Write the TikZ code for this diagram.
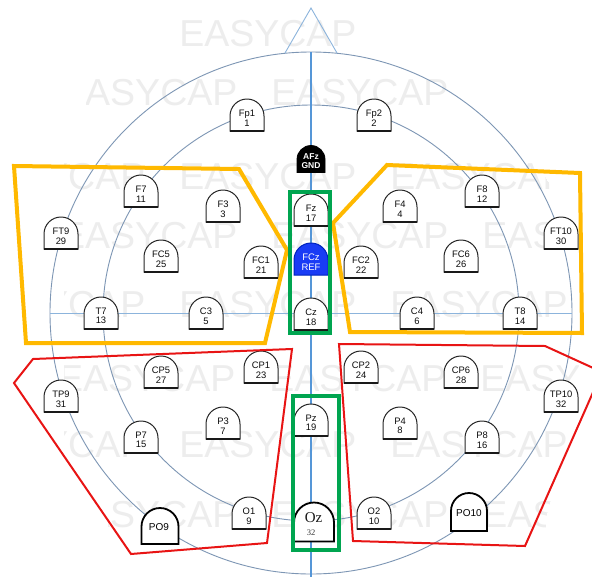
\documentclass[tikz,border=0pt]{standalone}
\usepackage{fontspec}
\setmainfont{Liberation Sans}
\newfontfamily\ozfont{Liberation Serif}
\definecolor{circblue}{RGB}{125,150,180}
\definecolor{axisblue}{RGB}{85,150,215}
\definecolor{axislight}{RGB}{140,180,220}
\definecolor{orangec}{RGB}{255,185,0}
\definecolor{greenc}{RGB}{0,165,80}
\definecolor{redc}{RGB}{232,20,20}
\definecolor{fczblue}{RGB}{25,60,245}
\definecolor{fczedge}{RGB}{0,35,190}
\tikzset{
  circ/.style={draw=circblue, line width=0.9pt},
  vaxis/.style={draw=axisblue, line width=1.3pt},
  haxis/.style={draw=axislight, line width=1pt},
  nose/.style={draw=axislight, line width=0.9pt},
  orangebox/.style={draw=orangec, line width=4pt, line join=miter},
  redbox/.style={draw=redc, line width=2pt, line join=miter},
  greenbox/.style={draw=greenc, line width=4pt},
  eshape/.style={fill=white, draw=black!85, line width=1pt},
  ebase/.style={draw=black!90, line width=1.7pt},
  lbl/.style={align=center, inner sep=0pt, text=black!95, font=\fontsize{9.4}{9.6}\selectfont},
  wm/.style={anchor=west, inner sep=0pt, text=black!7, font=\fontsize{37.5}{37.5}\selectfont},
  thick tomb/.style={fill=white, draw=black, line width=1.8pt}
}
\newcommand{\tomb}[5]{\path[#1] ({#2-#4},{#3+#5}) -- ({#2-#4},{#3-#5+#4}) arc[start angle=180,end angle=360,radius=#4] -- ({#2+#4},{#3+#5}) -- cycle;}
\newcommand{\tombbase}[5]{\draw[#1] ({#2-#4},{#3+#5}) -- ({#2+#4},{#3+#5});}
\newcommand{\elec}[4]{%
  \tomb{eshape}{#2}{#3}{17}{16}
  \tombbase{ebase}{#2}{#3}{17}{16}
  \node[lbl] (#1) at (#2,{#3+3}) {#1\\#4};}
\newcommand{\wmrow}[3]{\node[wm] (#1) at (#2,#3) {EASYCAP\hspace{34pt}EASYCAP\hspace{34pt}EASYCAP\hspace{34pt}EASYCAP};}
\begin{document}
\begin{tikzpicture}[x=1pt,y=-1pt]
\useasboundingbox (0,0) rectangle (592,576);
\fill[white] (0,0) rectangle (592,576);
\clip (0,0) rectangle (592,576);
% watermark
\begin{scope}
  \clip (170,10) -- (370,10) -- (370,55) -- (470,65) -- (470,115) -- (530,150) -- (572,225) -- (578,300) -- (578,400) -- (545,520) -- (545,576) -- (108,576) -- (108,490) -- (64,460) -- (64,150) -- (86,115) -- (86,65) -- (170,55) -- cycle;
  \wmrow{wm1}{-32}{34}
  \wmrow{wm2}{60}{93}
  \wmrow{wm3}{-32}{177}
  \wmrow{wm4}{60}{236}
  \wmrow{wm5}{-32}{305}
  \wmrow{wm6}{58}{379}
  \wmrow{wm7}{-32}{445}
  \wmrow{wm8}{60}{515}
\end{scope}
% head scheme
\draw[circ] (311,313) circle (261);
\draw[circ] (311,313) circle (208);
\draw[vaxis] (311,52) -- (311,580);
\draw[haxis] (50,313) -- (572,313);
\draw[nose] (285,53) -- (311,8) -- (337,53);
% electrodes
\elec{Fp1}{247}{115}{1}
\elec{Fp2}{374}{115}{2}
\tomb{fill=black,draw=black,line width=0.8pt}{311}{159}{14}{13.5}
\node[lbl,text=white,font=\bfseries\fontsize{8.5}{9}\selectfont] (AFz) at (311,161.5) {AFz\\GND};
\elec{F7}{141}{191}{11}
\elec{F3}{223}{206}{3}
\elec{Fz}{311}{210}{17}
\elec{F4}{400}{206}{4}
\elec{F8}{482}{191}{12}
\elec{FT9}{61}{233}{29}
\elec{FC5}{161}{256}{25}
\elec{FC1}{261}{262}{21}
\tomb{fill=fczblue,draw=fczedge,line width=1pt}{311}{259}{17}{16}
\node[lbl,text=white,font=\fontsize{9.5}{10}\selectfont] (FCz) at (311,262) {FCz\\REF};
\elec{FC2}{361}{262}{22}
\elec{FC6}{461}{256}{26}
\elec{FT10}{561}{233}{30}
\elec{T7}{101}{313}{13}
\elec{C3}{206}{313}{5}
\elec{Cz}{311}{314}{18}
\elec{C4}{417}{313}{6}
\elec{T8}{520}{313}{14}
\elec{CP5}{161}{372}{27}
\elec{CP1}{261}{367}{23}
\elec{CP2}{361}{367}{24}
\elec{CP6}{461}{372}{28}
\elec{TP9}{61}{396}{31}
\elec{TP10}{561}{396}{32}
\elec{P7}{141}{437}{15}
\elec{P3}{223}{423}{7}
\elec{Pz}{311}{420}{19}
\elec{P4}{400}{423}{8}
\elec{P8}{482}{437}{16}
\elec{O1}{249}{513}{9}
\elec{O2}{374}{513}{10}
\tomb{thick tomb}{314}{522}{20}{19.5}
\node[inner sep=0pt,text=black!90,font=\ozfont\fontsize{15}{15}\selectfont] (Oz) at (313.5,518) {Oz};
\node[inner sep=0pt,text=black!80,font=\ozfont\fontsize{8.5}{8.5}\selectfont] (Oz32) at (311,533) {32};
\tomb{thick tomb}{160}{526}{18.5}{18}
\node[inner sep=0pt,text=black,font=\fontsize{10}{10}\selectfont] (PO9) at (159,527) {PO9};
\tomb{thick tomb}{469}{512}{18}{19}
\node[inner sep=0pt,text=black,font=\fontsize{10}{10}\selectfont] (PO10) at (469,513) {PO10};
% region outlines
\draw[orangebox] (14,166) -- (239,169) -- (287,250) -- (265,343) -- (26,343) -- cycle;
\draw[orangebox] (333,223) -- (387,165) -- (580,173) -- (582,333) -- (350,332) -- cycle;
\draw[redbox] (33,359) -- (292,349) -- (267,543) -- (131,554) -- (14,383) -- cycle;
\draw[redbox] (339,344) -- (545,346) -- (602,372) -- (525,546) -- (353,541) -- cycle;
\draw[greenbox] (290,191.5) rectangle (330,332.5);
\draw[greenbox] (293,395.5) rectangle (338.5,550);
\end{tikzpicture}
\end{document}
